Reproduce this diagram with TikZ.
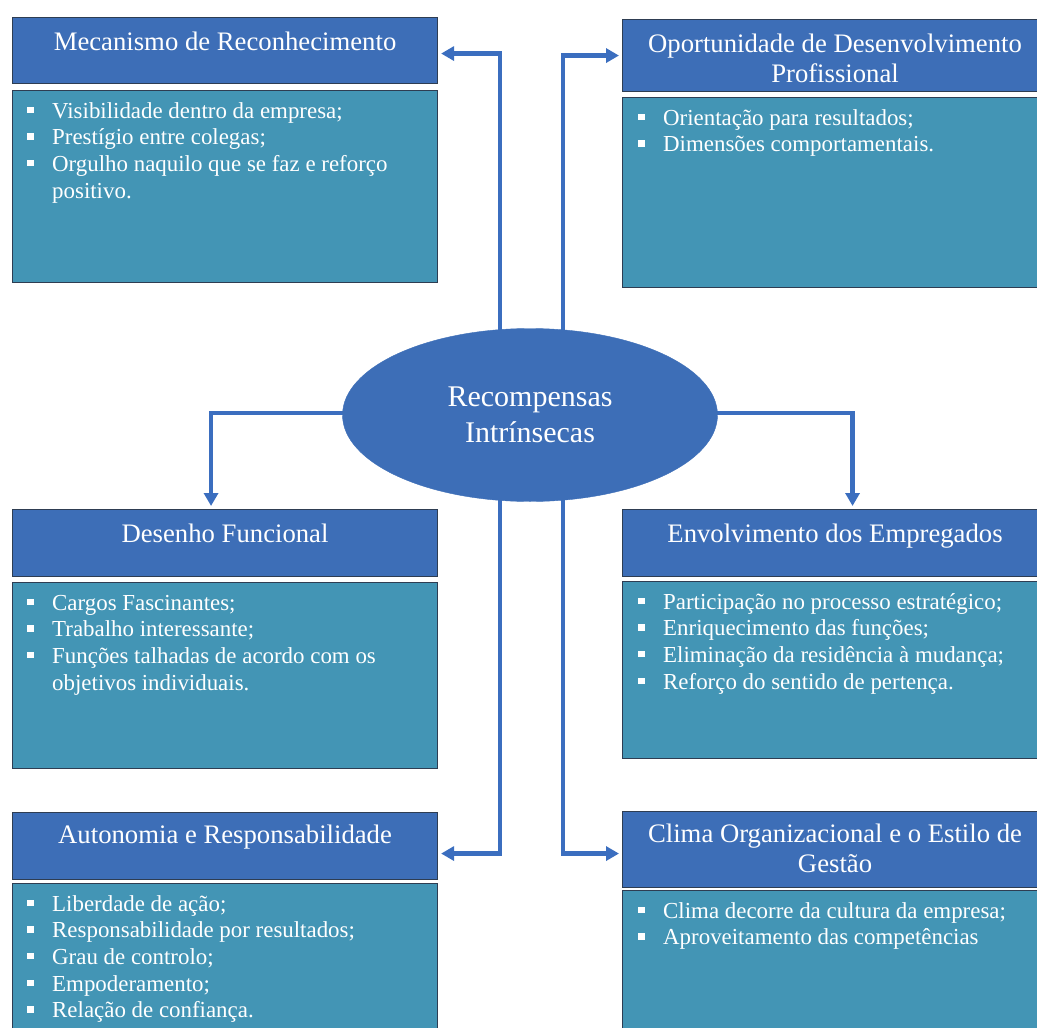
\documentclass[tikz,border=0pt]{standalone}
\usepackage{fontspec}
\setmainfont{Liberation Serif}
\usetikzlibrary{arrows.meta,shapes.geometric,calc,backgrounds}

\definecolor{titleblue}{HTML}{3D6EB7}
\definecolor{bodyteal}{HTML}{4395B5}
\definecolor{linkblue}{HTML}{3B6EBF}
\definecolor{edgedark}{HTML}{2E3D52}

% square bullet followed by the indent of the item text
\newcommand\sqbullet{\makebox[25pt][l]{\raisebox{5pt}{\rule{6.5pt}{6.5pt}}}}
\newcommand\contind{\hspace*{25pt}}

\begin{document}
\begin{tikzpicture}[x=1pt,y=-1pt,
  titlebox/.style={rectangle,draw=edgedark,line width=1.1pt,fill=titleblue,
    minimum width=425pt,inner sep=0pt,anchor=north west},
  bodybox/.style={rectangle,draw=edgedark,line width=1.1pt,fill=bodyteal,
    minimum width=425pt,inner sep=0pt,anchor=north west},
  titletext/.style={anchor=north,inner sep=0pt,text=white,align=center,
    font=\fontsize{26.7}{30}\selectfont},
  bodytext/.style={anchor=north west,inner sep=0pt,text=white,align=left,
    font=\fontsize{22.9}{26.6}\selectfont},
  conn/.style={draw=linkblue,line width=4.2pt,
    -{Triangle[length=13pt,width=14pt]},shorten >=3pt}]

\useasboundingbox (0,0) rectangle (1037,1028);
\clip (0,0) rectangle (1037,1028);

% central ellipse
\node[ellipse,fill=titleblue,draw=titleblue,minimum width=375pt,minimum height=173pt,
  inner sep=0pt,text=white,align=center,font=\fontsize{30}{36}\selectfont]
  (ell) at (530,415) {Recompensas\\Intrínsecas};

% --- Mecanismo de Reconhecimento
\node[titlebox,minimum height=66pt] (mecT) at (12,17) {};
\node[titletext] (mecTx) at ($(mecT.north)+(0,12)$) {\strut Mecanismo de Reconhecimento};
\node[bodybox,minimum height=192pt] (mecB) at (12,90) {};
\node[bodytext] (mecBx) at ($(mecB.north west)+(15,9.4)$)
  {\strut\sqbullet Visibilidade dentro da empresa;\\
   \sqbullet Prestígio entre colegas;\\
   \sqbullet Orgulho naquilo que se faz e reforço\\
   \contind positivo.};

% --- Oportunidade de Desenvolvimento Profissional
\node[titlebox,minimum height=72pt] (opoT) at (622,19) {};
\node[titletext] (opoTx) at ($(opoT.north)+(0,12)$) {\strut Oportunidade de Desenvolvimento\\Profissional};
\node[bodybox,minimum height=190pt] (opoB) at (622,97) {};
\node[bodytext] (opoBx) at ($(opoB.north west)+(16,9.4)$)
  {\strut\sqbullet Orientação para resultados;\\
   \sqbullet Dimensões comportamentais.};

% --- Desenho Funcional
\node[titlebox,minimum height=67pt] (desT) at (12,509) {};
\node[titletext] (desTx) at ($(desT.north)+(0,12)$) {\strut Desenho Funcional};
\node[bodybox,minimum height=186pt] (desB) at (12,582) {};
\node[bodytext] (desBx) at ($(desB.north west)+(15,9.4)$)
  {\strut\sqbullet Cargos Fascinantes;\\
   \sqbullet Trabalho interessante;\\
   \sqbullet Funções talhadas de acordo com os\\
   \contind objetivos individuais.};

% --- Envolvimento dos Empregados
\node[titlebox,minimum height=67pt] (envT) at (622,509) {};
\node[titletext] (envTx) at ($(envT.north)+(0,12)$) {\strut Envolvimento dos Empregados};
\node[bodybox,minimum height=177pt] (envB) at (622,581) {};
\node[bodytext] (envBx) at ($(envB.north west)+(16,9.4)$)
  {\strut\sqbullet Participação no processo estratégico;\\
   \sqbullet Enriquecimento das funções;\\
   \sqbullet Eliminação da residência à mudança;\\
   \sqbullet Reforço do sentido de pertença.};

% --- Autonomia e Responsabilidade
\node[titlebox,minimum height=67pt] (autT) at (12,812) {};
\node[titletext] (autTx) at ($(autT.north)+(0,10)$) {\strut Autonomia e Responsabilidade};
\node[bodybox,minimum height=160pt] (autB) at (12,883) {};
\node[bodytext] (autBx) at ($(autB.north west)+(15,9.4)$)
  {\strut\sqbullet Liberdade de ação;\\
   \sqbullet Responsabilidade por resultados;\\
   \sqbullet Grau de controlo;\\
   \sqbullet Empoderamento;\\
   \sqbullet Relação de confiança.};

% --- Clima Organizacional e o Estilo de Gestão
\node[titlebox,minimum height=76pt] (cliT) at (622,811) {};
\node[titletext] (cliTx) at ($(cliT.north)+(0,10)$) {\strut Clima Organizacional e o Estilo de\\Gestão};
\node[bodybox,minimum height=160pt] (cliB) at (622,890) {};
\node[bodytext] (cliBx) at ($(cliB.north west)+(16,9.4)$)
  {\strut\sqbullet Clima decorre da cultura da empresa;\\
   \sqbullet Aproveitamento das competências};

% connectors leave from behind the ellipse
\coordinate (ellL) at ($(ell.center)+(-30,-2)$);
\coordinate (ellR) at ($(ell.center)+(33,-2)$);
\begin{scope}[on background layer]
  \draw[conn] (ellL) |- ($(mecT.east)+(0,3)$);
  \draw[conn] (ellR) |- (opoT.west);
  \draw[conn] (ellL) -| ($(desT.north)+(-14,0)$);
  \draw[conn] (ellR) -| ($(envT.north)+(17.5,0)$);
  \draw[conn] (ellL) |- ($(autT.east)+(0,7.5)$);
  \draw[conn] (ellR) |- ($(cliT.west)+(0,4)$);
\end{scope}
\end{tikzpicture}
\end{document}
